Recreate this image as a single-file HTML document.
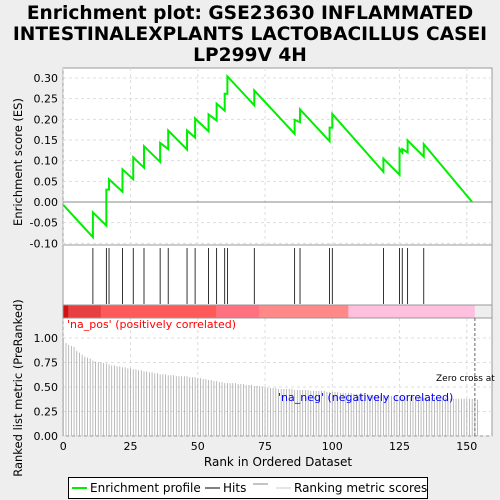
<!DOCTYPE html>
<html><head><meta charset="utf-8"><style>
body{margin:0;background:#eeeeee;}
svg{display:block;font-family:"DejaVu Sans","Liberation Sans",sans-serif;}
</style></head><body>
<svg id="chart" width="500" height="500" xmlns="http://www.w3.org/2000/svg">
<rect width="500" height="500" fill="#eeeeee"/>
<g font-weight="bold" font-size="18.6" text-anchor="middle" fill="#000">
<text x="250" y="19">Enrichment plot: GSE23630 INFLAMMATED</text>
<text x="250" y="40">INTESTINALEXPLANTS LACTOBACILLUS CASEI</text>
<text x="250" y="61">LP299V 4H</text>
</g>
<g id="g"></g>
</svg>
<script>
const hitRanks=[11,16,17,22,26,30,36,39,46,49,54,57,60,61,71,86,88,99,100,119,125,126,128,134];
const esBefore=[-0.085,-0.057,0.03,0.025,0.055,0.083,0.097,0.128,0.127,0.156,0.171,0.197,0.221,0.262,0.234,0.165,0.193,0.147,0.18,0.073,0.066,0.12,0.12,0.11];
const esAfter=[-0.025,0.03,0.055,0.079,0.108,0.135,0.143,0.173,0.173,0.202,0.212,0.238,0.262,0.304,0.270,0.199,0.224,0.18,0.213,0.105,0.128,0.128,0.149,0.140];
const esStart=-0.007, esEndRank=152, esEnd=0.0;
const metric=[1.0,0.95,0.93,0.92,0.91,0.87,0.85,0.83,0.81,0.80,0.79,0.77,0.76,0.755,0.75,0.745,0.74,0.73,0.72,0.72,0.71,0.71,0.70,0.70,0.69,0.69,0.68,0.68,0.67,0.67,0.66,0.66,0.65,0.65,0.64,0.64,0.63,0.63,0.63,0.62,0.62,0.62,0.61,0.61,0.61,0.61,0.61,0.60,0.60,0.60,0.59,0.59,0.58,0.58,0.57,0.57,0.56,0.56,0.55,0.55,0.54,0.54,0.54,0.54,0.54,0.53,0.53,0.53,0.52,0.52,0.52,0.51,0.51,0.51,0.50,0.50,0.49,0.49,0.49,0.49,0.48,0.48,0.48,0.48,0.48,0.48,0.47,0.47,0.47,0.47,0.47,0.47,0.46,0.46,0.46,0.46,0.46,0.46,0.45,0.45,0.45,0.45,0.45,0.44,0.44,0.44,0.44,0.44,0.43,0.43,0.43,0.43,0.43,0.43,0.42,0.42,0.42,0.42,0.42,0.41,0.41,0.41,0.41,0.41,0.41,0.40,0.40,0.40,0.40,0.40,0.40,0.40,0.40,0.40,0.39,0.39,0.39,0.39,0.39,0.39,0.39,0.39,0.39,0.39,0.38,0.38,0.38,0.38,0.38,0.38,0.38,0.38,0.38,0.38,0.37];
const esTicks=[-0.10,-0.05,0.00,0.05,0.10,0.15,0.20,0.25,0.30];
const metricTicks=[0.00,0.25,0.50,0.75,1.00];
const rankTicks=[0,25,50,75,100,125,150];
const barSegs=[[0,2,"#d41010"],[2,14,"#e84040"],[14,57,"#ff5a5a"],[57,73,"#ff7080"],[73,106,"#ff8888"],[106,153,"#ffc0e0"]];

const NS="http://www.w3.org/2000/svg";
const G=document.getElementById('g');
function el(t,a,p){const e=document.createElementNS(NS,t);for(const k in a)e.setAttribute(k,a[k]);(p||G).appendChild(e);return e;}
const L=63,R=492;
const xs=r=>63.3+r*2.69;
const yE=v=>202-v*413.3;
const yM=v=>436-v*98;
const T1=68,B1=245,B2=305,B3=318,B4=436;

const p1=el('rect',{x:L,y:T1,width:R-L,height:B1-T1,fill:'#fff',stroke:'#999'});

const p2=el('rect',{x:L,y:B1,width:R-L,height:B2-B1,fill:'#fff',stroke:'#999'});

const p3=el('rect',{x:L,y:B3,width:R-L,height:B4-B3,fill:'#fff',stroke:'#999'});


rankTicks.forEach(r=>{
  el('line',{x1:xs(r),x2:xs(r),y1:T1,y2:B1,stroke:'#ddd','stroke-dasharray':'3,3'});
  el('line',{x1:xs(r),x2:xs(r),y1:B3,y2:B4,stroke:'#ddd','stroke-dasharray':'3,3'});
});
esTicks.forEach(v=>{
  el('line',{x1:L,x2:R,y1:yE(v),y2:yE(v),stroke:'#ddd','stroke-dasharray':'3,3'});
  const t=el('text',{x:58,y:yE(v)+4,'font-size':11,'text-anchor':'end',fill:'#000'});t.textContent=v.toFixed(2);
  
});
el('line',{x1:L,x2:R,y1:yE(0),y2:yE(0),stroke:'#888'});
metricTicks.forEach(v=>{
  el('line',{x1:L,x2:R,y1:yM(v),y2:yM(v),stroke:'#ddd','stroke-dasharray':'3,3'});
  const t=el('text',{x:58,y:yM(v)+4,'font-size':11,'text-anchor':'end',fill:'#000'});t.textContent=v.toFixed(2);
  
});
rankTicks.forEach(r=>{
  const t=el('text',{x:xs(r),y:450,'font-size':11,'text-anchor':'middle',fill:'#000'});t.textContent=r;
  
});

let pts=[[xs(0),yE(esStart)]];
hitRanks.forEach((r,i)=>{pts.push([xs(r),yE(esBefore[i])]);pts.push([xs(r),yE(esAfter[i])]);});
pts.push([xs(esEndRank),yE(esEnd)]);
const es=el('polyline',{points:pts.map(p=>p.join(',')).join(' '),fill:'none',stroke:'#00ee00','stroke-width':2});



hitRanks.forEach(r=>{
  const h=el('line',{x1:xs(r),x2:xs(r),y1:B1+3,y2:B2-1,stroke:'#000','stroke-width':0.8});
  
  
});
barSegs.forEach(s=>{
  const b=el('rect',{x:xs(s[0]),y:B2,width:xs(s[1])-xs(s[0]),height:B3-B2,fill:s[2]});
  
  
});
el('rect',{x:L,y:B2,width:R-L,height:B3-B2,fill:'none',stroke:'#999'});

metric.forEach((v,i)=>{
  const b=el('line',{x1:xs(i),x2:xs(i),y1:yM(0),y2:yM(v),stroke:'#aaa','stroke-width':0.8});
  
  
});
el('line',{x1:xs(153),x2:xs(153),y1:B3,y2:B4,stroke:'#666','stroke-dasharray':'3,2'});

function txt(x,y,s,attrs,name){const t=el('text',Object.assign({x:x,y:y},attrs));t.textContent=s;return t;}
txt(67,328,"'na_pos' (positively correlated)",{'font-size':11,fill:'#ff0000'},'pos-label');
txt(278,401,"'na_neg' (negatively correlated)",{'font-size':11,fill:'#0000ff'},'neg-label');
txt(436,381,"Zero cross at",{'font-size':9,fill:'#000'},'zero-cross-label');
txt(22,162,"Enrichment score (ES)",{'font-size':11.5,fill:'#000','text-anchor':'middle',transform:'rotate(-90 22 162)'},'es-axis-title');
txt(22,388,"Ranked list metric (PreRanked)",{'font-size':11.5,fill:'#000','text-anchor':'middle',transform:'rotate(-90 22 388)'},'metric-axis-title');
txt(278,466,"Rank in Ordered Dataset",{'font-size':12,fill:'#000','text-anchor':'middle'},'x-axis-title');

const lg=el('g',{});
el('rect',{x:68.5,y:477.5,width:359,height:21,fill:'#fff',stroke:'#000'},lg);
el('line',{x1:72,x2:87,y1:488,y2:488,stroke:'#00ee00','stroke-width':2},lg);
txt(90,492,"Enrichment profile",{'font-size':12,fill:'#000'},'legend-entry-enrichment');
el('line',{x1:205,x2:220,y1:488,y2:488,stroke:'#000'},lg);
txt(223,492,"Hits",{'font-size':12,fill:'#000'},'legend-entry-hits');
el('line',{x1:253,x2:268,y1:484,y2:484,stroke:'#888'},lg);
el('line',{x1:276,x2:291,y1:488,y2:488,stroke:'#ccc'},lg);
txt(294,492,"Ranking metric scores",{'font-size':12,fill:'#000'},'legend-entry-metric');
</script>
</body></html>
